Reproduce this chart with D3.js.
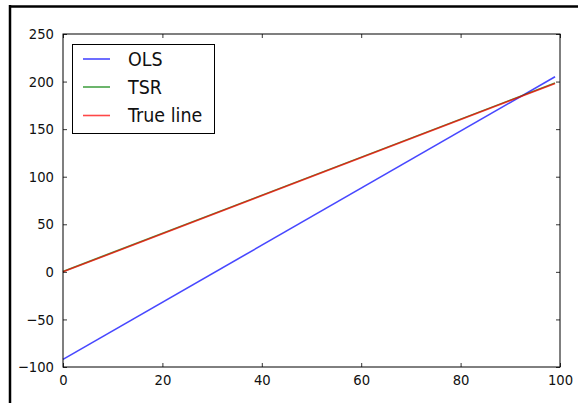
<!DOCTYPE html>
<html><head><meta charset="utf-8">
<script src="https://cdn.jsdelivr.net/npm/d3@7"></script>
<style>body{margin:0;background:#fff}svg{display:block}</style>
</head><body>
<svg id="c" width="578" height="403"></svg>
<script>
const xTicks = [0, 20, 40, 60, 80, 100];
const yTicks = [-100, -50, 0, 50, 100, 150, 200, 250];
const seriesNames = ["OLS", "TSR", "True line"];
const seriesColors = ["#0000ff", "#008000", "#ff0000"];
const olsX = [0, 99];
const olsY = [-92, 205];
const tsrX = [0, 99];
const tsrY = [0.5, 198.5];
const trueX = [0, 99];
const trueY = [0, 198];

const svg = d3.select("#c");
const L = 63, R = 560, T = 34, B = 367;
const x = d3.scaleLinear().domain([0, 100]).range([L, R]);
const y = d3.scaleLinear().domain([-100, 250]).range([B, T]);

// outer frame (left and top)
svg.append("line").attr("x1", 10).attr("x2", 10).attr("y1", 5).attr("y2", 403).attr("stroke", "#000").attr("stroke-width", 2.5);
svg.append("line").attr("x1", 9).attr("x2", 578).attr("y1", 6.5).attr("y2", 6.5).attr("stroke", "#000").attr("stroke-width", 2.5);

const font = "'DejaVu Sans', sans-serif";
const tickLen = 4;

// lines
const series = [[olsX, olsY], [tsrX, tsrY], [trueX, trueY]];
const line = d3.line().x(d => x(d[0])).y(d => y(d[1]));
series.forEach((s, i) => {
  const pts = s[0].map((v, j) => [v, s[1][j]]);
  svg.append("path").attr("d", line(pts)).attr("fill", "none")
    .attr("stroke", seriesColors[i]).attr("stroke-width", 1.6).attr("stroke-opacity", 0.72);
});

// axes with inward ticks
const g = svg.append("g");
const xb = d3.axisBottom(x).tickValues(xTicks).tickSize(-tickLen).tickPadding(7).tickFormat(d3.format("d"));
const xt = d3.axisTop(x).tickValues(xTicks).tickSize(-tickLen).tickFormat("");
const yl = d3.axisLeft(y).tickValues(yTicks).tickSize(-tickLen).tickPadding(9).tickFormat(d => d < 0 ? "\u2212" + Math.abs(d) : d);
const yr = d3.axisRight(y).tickValues(yTicks).tickSize(-tickLen).tickFormat("");
g.append("g").attr("transform", `translate(0,${B})`).call(xb);
g.append("g").attr("transform", `translate(0,${T})`).call(xt);
g.append("g").attr("transform", `translate(${L},0)`).call(yl);
g.append("g").attr("transform", `translate(${R},0)`).call(yr);
g.selectAll(".domain").remove();
g.selectAll(".tick line").attr("stroke", "#000").attr("stroke-width", 0.8);
g.selectAll(".tick text").attr("font-family", font).attr("font-size", 13.2).attr("fill", "#111")
  .attr("transform", "scale(1,1.1)");

svg.append("rect").attr("x", L).attr("y", T).attr("width", R - L).attr("height", B - T)
  .attr("fill", "none").attr("stroke", "#000").attr("stroke-width", 1);

// legend
const lg = svg.append("g");
lg.append("rect").attr("x", 72.5).attr("y", 44.5).attr("width", 142).attr("height", 89)
  .attr("fill", "#fff").attr("stroke", "#000").attr("stroke-width", 1);
const rowsY = [59, 87, 115.5];
seriesNames.forEach((n, i) => {
  lg.append("line").attr("x1", 83).attr("x2", 110).attr("y1", rowsY[i]).attr("y2", rowsY[i])
    .attr("stroke", seriesColors[i]).attr("stroke-width", 1.6).attr("stroke-opacity", 0.72);
  lg.append("text").attr("transform", `translate(128,${rowsY[i]}) scale(1,1.1)`).attr("dy", "0.36em")
    .attr("font-family", font).attr("font-size", 17.5).attr("fill", "#111").text(n);
});
</script>
</body></html>
